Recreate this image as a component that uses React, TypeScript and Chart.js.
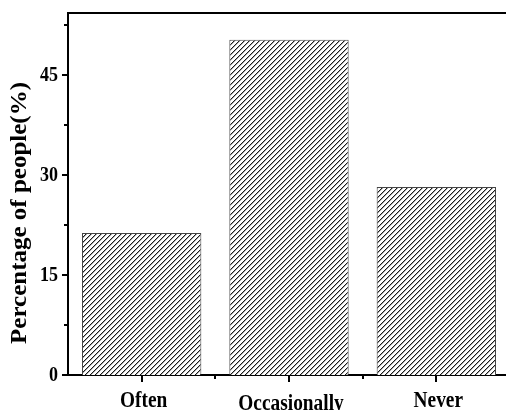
import React, { useEffect, useRef } from "react";
import { Chart, registerables } from "chart.js";

Chart.register(...registerables);

const categories = ["Often", "Occasionally", "Never"];
const percentages = [21.3, 50.3, 28.2];
const yTickValues = [0, 15, 30, 45];
const yMinorStep = 7.5;
const yMax = 54.3;
const yTitle = "Percentage of people(%)";

const FONT = '"Liberation Serif", "Times New Roman", serif';

function makeHatch(): CanvasPattern | string {
  const n = 5;
  const c = document.createElement("canvas");
  c.width = n;
  c.height = n;
  const g = c.getContext("2d");
  if (!g) return "#888";
  g.fillStyle = "#fff";
  g.fillRect(0, 0, n, n);
  for (let i = 0; i < n; i++) {
    g.fillStyle = "#1a1a1a";
    g.fillRect(i, n - 1 - i, 1, 1);
    g.fillStyle = "#a8a8a8";
    g.fillRect((i + 1) % n, n - 1 - i, 1, 1);
  }
  const p = g.createPattern(c, "repeat");
  return p || "#888";
}

export default function App() {
  const ref = useRef<HTMLCanvasElement | null>(null);

  useEffect(() => {
    if (!ref.current) return;
    const hatch = makeHatch();

    const decor = {
      id: "decor",
      afterDraw(chart: any) {
        const ctx = chart.ctx as CanvasRenderingContext2D;
        const area = chart.chartArea;
        const xs = chart.scales.x;
        const ys = chart.scales.y;
        ctx.save();
        ctx.strokeStyle = "#000";
        ctx.fillStyle = "#000";
        ctx.lineWidth = 2;
        // top frame line
        ctx.beginPath();
        ctx.moveTo(area.left - 1, area.top);
        ctx.lineTo(area.right, area.top);
        ctx.stroke();
        // y ticks (major + minor)
        for (let v = 0; v <= yMax + 1e-6; v += yMinorStep) {
          const y = Math.round(ys.getPixelForValue(v));
          const major = yTickValues.includes(v);
          ctx.beginPath();
          ctx.moveTo(area.left - (major ? 6 : 4), y);
          ctx.lineTo(area.left, y);
          ctx.stroke();
        }
        // y labels
        ctx.font = `bold 20px ${FONT}`;
        ctx.textAlign = "right";
        ctx.textBaseline = "middle";
        yTickValues.forEach((v) => {
          const y = ys.getPixelForValue(v);
          ctx.save();
          ctx.translate(area.left - 10, y + 1);
          ctx.scale(0.9, 1);
          ctx.fillText(String(v), 0, 0);
          ctx.restore();
        });
        // x ticks
        categories.forEach((_, i) => {
          const x = Math.round(xs.getPixelForValue(i));
          ctx.beginPath();
          ctx.moveTo(x, area.bottom);
          ctx.lineTo(x, area.bottom + 7);
          ctx.stroke();
          if (i < categories.length - 1) {
            const xm = Math.round(
              (xs.getPixelForValue(i) + xs.getPixelForValue(i + 1)) / 2
            );
            ctx.beginPath();
            ctx.moveTo(xm, area.bottom);
            ctx.lineTo(xm, area.bottom + 4);
            ctx.stroke();
          }
        });
        // x labels
        ctx.font = `bold 22px ${FONT}`;
        ctx.textAlign = "center";
        ctx.textBaseline = "alphabetic";
        categories.forEach((label, i) => {
          const x = xs.getPixelForValue(i);
          ctx.save();
          ctx.translate(x + 2, area.bottom + 32 + (i === 1 ? 3 : 0));
          ctx.scale(0.88, 1.08);
          ctx.fillText(label, 0, 0);
          ctx.restore();
        });
        // y title
        ctx.save();
        ctx.font = `bold 25px ${FONT}`;
        ctx.textAlign = "center";
        ctx.textBaseline = "middle";
        ctx.translate(20, (area.top + area.bottom) / 2 + 19);
        ctx.rotate(-Math.PI / 2);
        ctx.scale(1, 0.9);
        ctx.fillText(yTitle, 0, 0);
        ctx.restore();
        ctx.restore();
      },
    };

    const chart = new Chart(ref.current, {
      type: "bar",
      data: {
        labels: categories,
        datasets: [
          {
            data: percentages,
            backgroundColor: hatch as any,
            borderColor: "#444",
            borderWidth: 1,
            barPercentage: 0.81,
            categoryPercentage: 1,
          },
        ],
      },
      options: {
        animation: false,
        responsive: false,
        devicePixelRatio: 1,
        layout: { padding: { top: 13, right: 0, left: 0, bottom: 0 } },
        plugins: { legend: { display: false }, tooltip: { enabled: false } },
        scales: {
          x: {
            type: "category",
            offset: true,
            grid: { display: false },
            border: { display: true, color: "#000", width: 2 },
            ticks: { display: false },
            afterFit: (s: any) => {
              s.height = 35;
            },
          },
          y: {
            min: 0,
            max: yMax,
            grid: { display: false },
            border: { display: true, color: "#000", width: 2 },
            ticks: { display: false },
            afterFit: (s: any) => {
              s.width = 68;
            },
          },
        },
      },
      plugins: [decor],
    });
    return () => chart.destroy();
  }, []);

  return (
    <div style={{ position: "absolute", left: 0, top: 0, width: 506, height: 410, overflow: "hidden", background: "#fff" }}>
      <canvas ref={ref} width={510} height={410} style={{ display: "block" }} />
    </div>
  );
}
